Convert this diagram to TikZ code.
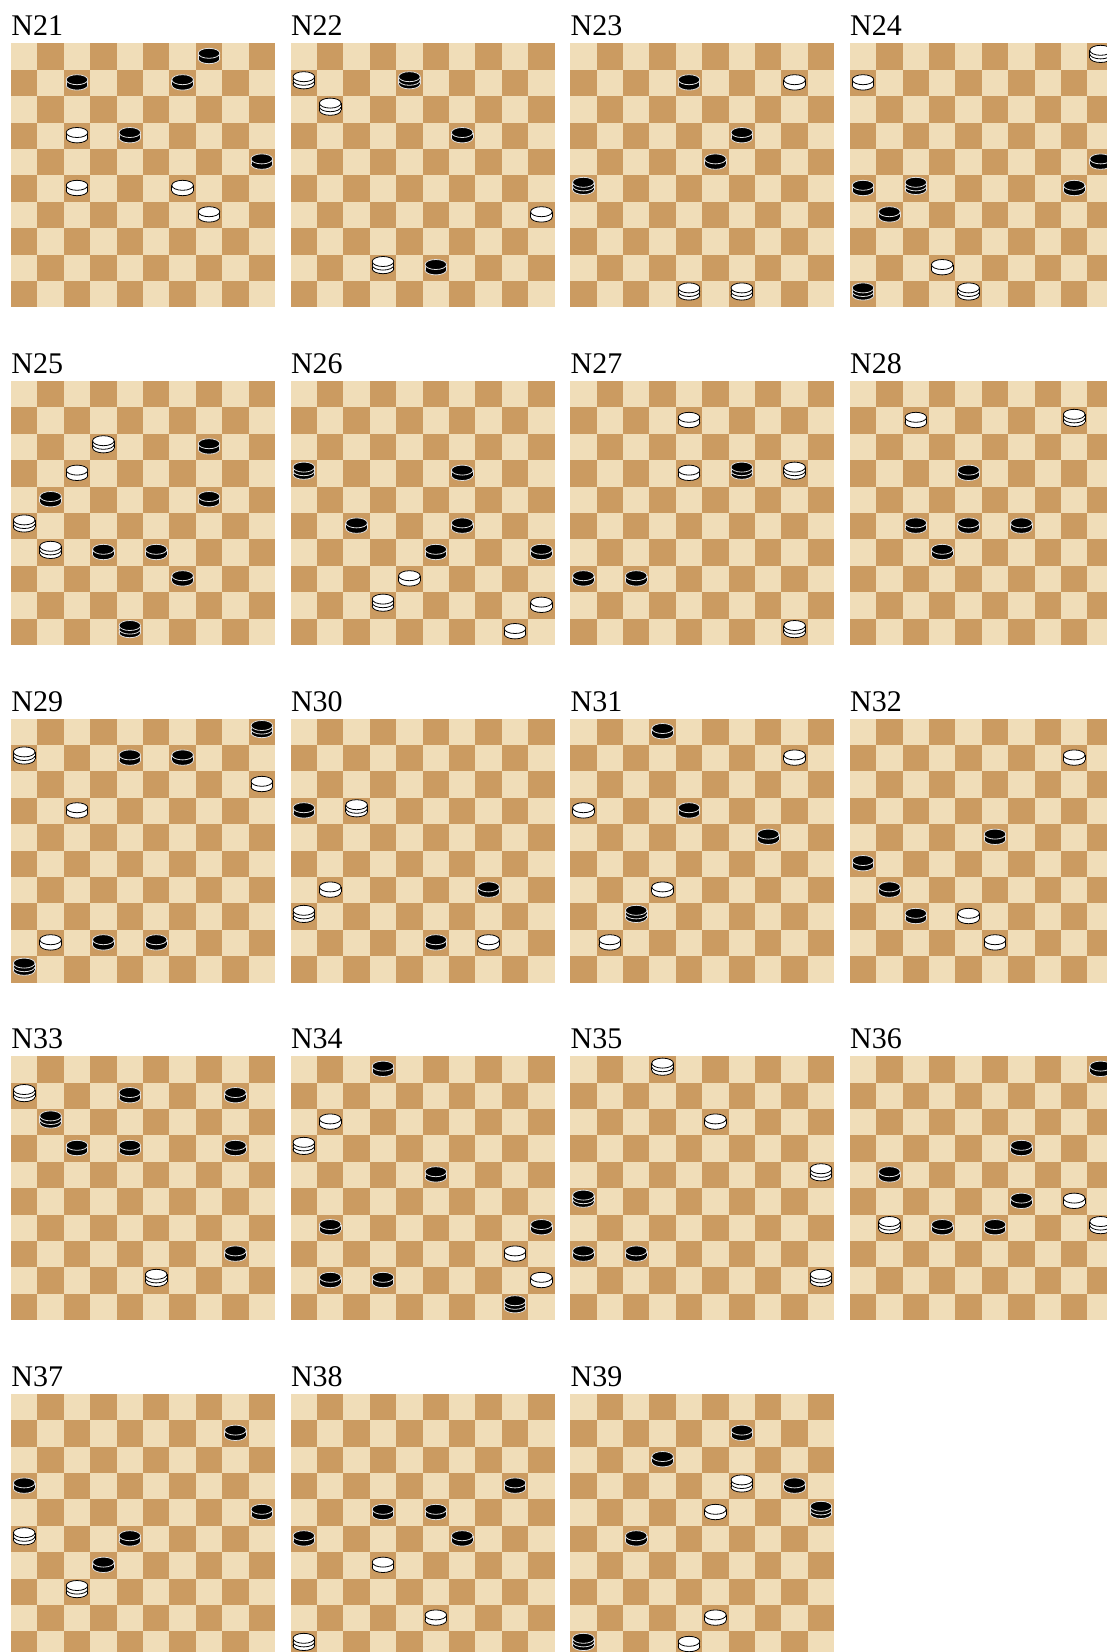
\documentclass[tikz,border=0pt]{standalone}
\usepackage{fontspec}
\setmainfont{Liberation Serif}
\usepackage{xcolor}
\definecolor{lightsq}{RGB}{240, 221, 184}
\definecolor{darksq}{RGB}{203, 155, 97}
\definecolor{bedge}{RGB}{225, 225, 225}

% board with its label, origin = top left corner
\newcommand{\board}[1]{%
  \node[lbl] (n#1) at (0,-7.5) {N#1};
  \fill[lightsq] (0,0) rectangle (264,264);
  \foreach \r in {0,...,9}
    \foreach \c in {1,3,5,7,9} {
      \pgfmathtruncatemacro\cc{\c-mod(\r,2)}
      \fill[darksq] (26.4*\cc,26.4*\r) rectangle ++(26.4,26.4);
    }%
}
% one disc stack: row, col, body, edge, layers
\newcommand{\piece}[5]{%
  \pgfmathsetmacro\pcx{26.4*#2+13.2}
  \pgfmathsetmacro\pth{#5==1 ? 5.4 : 3.6}
  \pgfmathsetmacro\pcy{26.4*#1+(#5==1 ? 10 : 7)}
  \foreach \k in {#5,...,1} {
    \filldraw[fill=#3, draw=#4] (\pcx,\pcy+\k*\pth) ellipse (10.8 and 5);
    \fill[#3] (\pcx-10.8,\pcy+\k*\pth-\pth) rectangle (\pcx+10.8,\pcy+\k*\pth);
    \draw[#4] (\pcx-10.8,\pcy+\k*\pth-\pth) -- ++(0,\pth)
              (\pcx+10.8,\pcy+\k*\pth-\pth) -- ++(0,\pth);
  }
  \filldraw[fill=#3, draw=#4] (\pcx,\pcy) ellipse (10.8 and 5);
}
\newcommand{\wmen}[1]{\foreach \r/\c in {#1} {\piece{\r}{\c}{white}{black}{1}}}
\newcommand{\wkings}[1]{\foreach \r/\c in {#1} {\piece{\r}{\c}{white}{black}{2}}}
\newcommand{\bmen}[1]{\foreach \r/\c in {#1} {\piece{\r}{\c}{black}{bedge}{1}}}
\newcommand{\bkings}[1]{\foreach \r/\c in {#1} {\piece{\r}{\c}{black}{bedge}{2}}}

\begin{document}
\begin{tikzpicture}[x=1pt, y=-1pt, line width=0.8pt,
    lbl/.style={anchor=base west, inner sep=0pt, font=\fontsize{30}{30}\selectfont}]
  \useasboundingbox (0,0) rectangle (1107,1652);
  \clip (0,0) rectangle (1107,1652);

  % row 1
  \begin{scope}[shift={(11,43.3)}]
    \board{21}
    \wmen{3/2, 5/2, 5/6, 6/7}
    \bmen{0/7, 1/2, 1/6, 3/4, 4/9}
  \end{scope}
  \begin{scope}[shift={(290.6,43.3)}]
    \board{22}
    \wkings{1/0, 2/1, 8/3} \wmen{6/9}
    \bkings{1/4} \bmen{3/6, 8/5}
  \end{scope}
  \begin{scope}[shift={(570.2,43.3)}]
    \board{23}
    \bmen{1/4, 3/6, 4/5} \bkings{5/0}
    \wmen{1/8} \wkings{9/4, 9/6}
  \end{scope}
  \begin{scope}[shift={(849.8,43.3)}]
    \board{24}
    \wkings{0/9, 9/4} \wmen{1/0, 8/3}
    \bmen{4/9, 5/0, 5/8, 6/1} \bkings{5/2, 9/0}
  \end{scope}

  % row 2
  \begin{scope}[shift={(11,380.9)}]
    \board{25}
    \wkings{2/3, 5/0, 6/1} \wmen{3/2}
    \bmen{2/7, 4/1, 4/7, 6/3, 6/5, 7/6} \bkings{9/4}
  \end{scope}
  \begin{scope}[shift={(290.6,380.9)}]
    \board{26}
    \bkings{3/0} \bmen{3/6, 5/2, 5/6, 6/5, 6/9}
    \wmen{7/4, 8/9, 9/8} \wkings{8/3}
  \end{scope}
  \begin{scope}[shift={(570.2,380.9)}]
    \board{27}
    \wmen{1/4, 3/4} \wkings{3/8, 9/8}
    \bkings{3/6} \bmen{7/0, 7/2}
  \end{scope}
  \begin{scope}[shift={(849.8,380.9)}]
    \board{28}
    \wmen{1/2} \wkings{1/8}
    \bmen{3/4, 5/2, 5/4, 5/6, 6/3}
  \end{scope}

  % row 3
  \begin{scope}[shift={(11,718.5)}]
    \board{29}
    \bkings{0/9, 9/0} \bmen{1/4, 1/6, 8/3, 8/5}
    \wkings{1/0} \wmen{2/9, 3/2, 8/1}
  \end{scope}
  \begin{scope}[shift={(290.6,718.5)}]
    \board{30}
    \bmen{3/0, 6/7, 8/5}
    \wkings{3/2, 7/0} \wmen{6/1, 8/7}
  \end{scope}
  \begin{scope}[shift={(570.2,718.5)}]
    \board{31}
    \bmen{0/3, 3/4, 4/7} \bkings{7/2}
    \wmen{1/8, 3/0, 6/3, 8/1}
  \end{scope}
  \begin{scope}[shift={(849.8,718.5)}]
    \board{32}
    \wmen{1/8, 7/4, 8/5}
    \bmen{4/5, 5/0, 6/1, 7/2}
  \end{scope}

  % row 4
  \begin{scope}[shift={(11,1056.1)}]
    \board{33}
    \wkings{1/0, 8/5}
    \bmen{1/4, 1/8, 3/2, 3/4, 3/8, 7/8} \bkings{2/1}
  \end{scope}
  \begin{scope}[shift={(290.6,1056.1)}]
    \board{34}
    \bmen{0/3, 4/5, 6/1, 6/9, 8/1, 8/3} \bkings{9/8}
    \wmen{2/1, 7/8, 8/9} \wkings{3/0}
  \end{scope}
  \begin{scope}[shift={(570.2,1056.1)}]
    \board{35}
    \wkings{0/3, 4/9, 8/9} \wmen{2/5}
    \bkings{5/0} \bmen{7/0, 7/2}
  \end{scope}
  \begin{scope}[shift={(849.8,1056.1)}]
    \board{36}
    \bmen{0/9, 3/6, 4/1, 5/6, 6/3, 6/5}
    \wmen{5/8} \wkings{6/1, 6/9}
  \end{scope}

  % row 5
  \begin{scope}[shift={(11,1393.7)}]
    \board{37}
    \bmen{1/8, 3/0, 4/9, 5/4, 6/3}
    \wkings{5/0, 7/2}
  \end{scope}
  \begin{scope}[shift={(290.6,1393.7)}]
    \board{38}
    \bmen{3/8, 4/3, 4/5, 5/0, 5/6}
    \wmen{6/3, 8/5} \wkings{9/0}
  \end{scope}
  \begin{scope}[shift={(570.2,1393.7)}]
    \board{39}
    \bmen{1/6, 2/3, 3/8, 5/2} \bkings{4/9, 9/0}
    \wkings{3/6} \wmen{4/5, 8/5, 9/4}
  \end{scope}
\end{tikzpicture}
\end{document}
